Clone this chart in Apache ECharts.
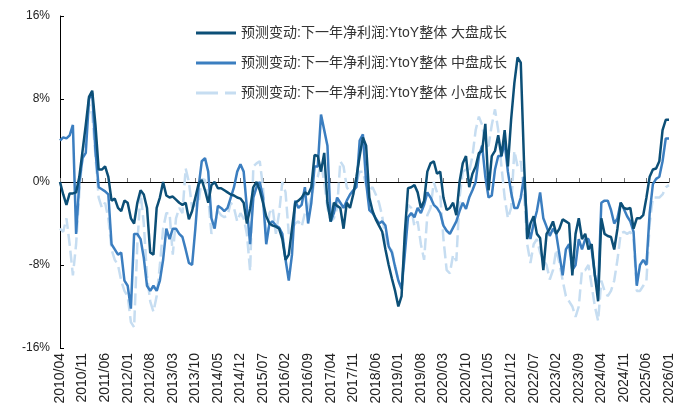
<!DOCTYPE html>
<html><head><meta charset="utf-8">
<script src="https://cdn.jsdelivr.net/npm/echarts@6/dist/echarts.min.js"></script>
<style>html,body{margin:0;padding:0;background:#fff}#c{width:676px;height:414px}</style>
</head><body><div id="c"></div>
<script>
var startYear = 2010, startMonth = 4, monthCount = 190;
var categories = [];
for (var i = 0; i < monthCount; i++) {
  var t = startMonth - 1 + i, y = startYear + Math.floor(t / 12), m = t % 12 + 1;
  categories.push(y + '/' + (m < 10 ? '0' + m : m));
}
var seriesNames = ['预测变动:下一年净利润:YtoY整体 大盘成长', '预测变动:下一年净利润:YtoY整体 中盘成长', '预测变动:下一年净利润:YtoY整体 小盘成长'];
var largeGrowth = [0,-1.2,-2.2,-1.1,-1.1,-1.0,0.5,3,5.5,8.2,8.8,5.5,1.2,1.2,1.5,0.5,-1.8,-1.6,-2.5,-2.8,
-1.8,-2.0,-3.5,-4.0,-2.0,-0.8,-1.2,-2.5,-6.8,-7.0,-2.5,-1.5,0,-1.3,-1.5,-1.4,-1.7,-2.0,-2.2,-2.0,
-3.6,-2.8,-1.5,-0.2,0.2,-0.8,-2.0,-0.3,0,-0.6,-0.6,-0.8,-1.0,-1.2,-1.3,-1.5,-1.6,-2.0,-4.0,-2.6,
-0.5,0,-0.8,-2.0,-3.3,-4.0,-4.2,-4.3,-4.5,-5.5,-7.5,-7.0,-4.5,-2.0,-1.8,-1.5,-1.0,-1.2,-0.5,2.6,
2.5,1.0,2.8,-2.0,-3.8,-2.0,-2.3,-2.5,-4.5,-2.0,-2.5,-1.2,0.5,2.5,4.3,3.5,-1.5,-2.8,-3.6,-4.2,
-4.8,-6.5,-8.0,-9.3,-10.5,-12.0,-11.0,-5.0,-0.6,-0.5,-0.3,-1.0,-2.5,-1.8,1.0,1.8,2.0,0.8,1.0,-1.5,
-2.7,-2.5,-2.0,-3.2,0,1.8,2.5,-0.5,0.8,1.5,2.8,3.0,5.6,-0.8,2.5,3.0,4.5,2.5,5.0,1.5,
6.0,9.5,12.0,11.5,2.0,-5.5,-4.0,-3.3,-5.0,-5.4,-8.5,-5.0,-4.5,-3.8,-5.0,-4.5,-3.6,-3.8,-4.0,-9.0,
-5.0,-3.5,-5.5,-5.0,-6.5,-6.0,-9.0,-11.5,-3.5,-5.0,-5.2,-5.3,-6.5,-4.5,-2.0,-2.5,-2.6,-2.5,-4.5,-3.5,
-3.5,-3.2,-1.5,0.5,1.2,1.3,2.0,5.0,6.0,6.0];
var midGrowth = [4.0,4.3,4.2,4.5,5.5,-5.0,0,2.3,2.8,8.0,8.6,3.0,-0.5,-0.7,-0.9,-1.2,-6.0,-6.5,-7.0,-6.8,
-9.5,-10.0,-12.2,-5.0,-5.0,-5.5,-7.3,-10.0,-10.5,-10.0,-10.5,-9.5,-7.5,-4.5,-5.5,-4.5,-4.5,-5.0,-5.3,-6.5,
-7.8,-8.0,-4.5,-0.5,2.0,2.3,1.0,-3.5,-4.5,-2.3,-2.5,-2.8,-2.5,-1.5,-0.5,1.0,1.7,1.0,-2.5,-6.0,
-1.5,-0.5,0,-1.5,-6.0,-4.0,-3.8,-4.2,-4.4,-5.0,-7.5,-9.5,-7.0,-1.8,-2.5,-2.2,-0.5,-4.0,-2.0,1.5,
1.5,6.5,5.0,3.5,-3.8,-3.0,-1.5,-2.0,-2.5,-1.8,-1.2,-0.8,-0.5,4.0,4.6,0,-2.7,-3.0,-3.5,-4.0,
-3.8,-4.2,-6.2,-6.8,-8.2,-9.5,-10.3,-7.0,-3.4,-3.0,-3.4,-2.5,-3.0,-2.2,-1.0,-1.5,-2.2,-2.5,-3.0,-4.2,
-4.7,-5.0,-4.4,-3.8,-2.8,-2.0,-2.6,-1.5,-0.8,0,2.5,3.5,0.5,-1.5,-1.3,1.2,2.5,2.5,3.8,1.0,
-1.0,-2.5,-2.5,-1.5,0.5,-4.0,-5.5,-4.0,-2.8,-1.0,-3.5,-4.3,-5.2,-4.5,-5.0,-7.0,-9.0,-6.5,-6.0,-8.5,
-8.0,-5.5,-6.5,-5.5,-5.5,-6.5,-9.0,-10.5,-2.0,-1.8,-1.8,-2.7,-4.0,-3.5,-2.0,-2.6,-3.3,-3.8,-4.8,-10.0,
-8.0,-7.5,-8.0,-3.0,-0.2,0.3,0.5,2.0,4.2,4.2];
var smallGrowth = [-4.5,-4.8,-3.5,-6,-9,-6,-1,2.5,5,7.5,6.5,2.5,-1.5,-2.5,-2.0,-3.5,-6.5,-7.5,-8,-9.5,
-10.5,-11,-13.5,-14,-6,-1,-4,-9,-11.5,-12.5,-11,-8,-4.5,-3.0,-3.0,-7.0,-3.5,-2.5,-3.0,1.3,
0,-2.5,-2.2,-2.0,0.3,0.2,-1.5,-5.0,-4.0,-2.8,-3.2,-3.4,-3.2,-2.0,-2.5,-3.8,-3.0,-3.5,-5.0,-8.6,
1.5,1.8,2.0,-0.5,-5.5,-3.0,-2.5,-5.0,-3.0,0,-1.0,-5.0,-4.5,-4.0,-3.8,-4.3,-3.0,-2.5,-1.5,0,
0.5,1.8,0,-2.5,-3.8,-3.5,-2.5,2.0,1.5,-0.5,-1.0,-1.2,0,1.0,1.0,-0.3,-0.8,-0.5,-1.2,-2.0,
-3.3,-5.5,-6.3,-6.6,-8.0,-9.5,-10.3,-5.5,-2.2,-2.5,-4.3,-3.8,-6.0,-7.5,-3.2,-2.5,0,-1.0,-1.2,-5.5,
-8.5,-8.8,-7.0,-7.6,-1.5,1.0,1.2,1.0,2.5,5.0,6.3,5.5,3.5,3.5,5.5,7.0,5.0,1.5,-1.5,-3.5,
-2.5,3.0,1.5,2.0,-1.0,-6.0,-7.8,-6.0,-5.5,-6.8,-7.5,-8.0,-9.4,-8.5,-6.5,-7.8,-9.5,-11.0,-11.5,-12.0,
-13.0,-12.0,-8.5,-8.5,-8.0,-10.0,-12.0,-13.4,-9.5,-10.5,-11.0,-10.5,-9.5,-7.5,-5.0,-4.8,-5.0,-4.8,-5.5,-10.5,
-10.5,-10.0,-9.5,-4.0,-1.5,-1.5,-1.5,-1.2,-0.5,-0.3];
var yTicks = [-16, -8, 0, 8, 16];
var colors = ['#0c4f77', '#3b7ec0', '#c6ddf1'];

var chart = echarts.init(document.getElementById('c'), null, {renderer: 'canvas'});
var fontFam = "'Liberation Sans', Arial, 'Noto Sans CJK SC', sans-serif";
var solidIcon = 'path://M0,0 L40,0 L40,3 L0,3 Z';
var dashedIcon = 'path://M0,0 L22,0 L22,3 L0,3 Z M29,0 L40,0 L40,3 L29,3 Z';
var icons = [solidIcon, solidIcon, dashedIcon];
var legends = seriesNames.map(function (n, i) {
  return {
    orient: 'horizontal', left: 191, top: 21 + 30 * i, itemWidth: 40, itemHeight: 3, itemGap: 10,
    textStyle: {fontSize: 14, color: '#333', fontFamily: "'Liberation Sans', 'Noto Sans CJK SC', sans-serif"},
    data: [{name: n, icon: icons[i]}]
  };
});
chart.setOption({
  animation: false,
  color: colors,
  grid: {left: 60, right: 4, top: 16, bottom: 66, containLabel: false},
  legend: legends,
  xAxis: [{
    type: 'category', data: categories, boundaryGap: false, position: 'bottom',
    axisLine: {show: false, onZero: false}, axisTick: {show: false},
    axisLabel: {interval: 6, rotate: 90, margin: 5, fontSize: 14, color: '#222', fontFamily: fontFam}
  }, {
    type: 'category', data: categories, boundaryGap: false, position: 'top',
    axisLine: {show: true, onZero: true, lineStyle: {color: '#000', width: 1}},
    axisTick: {show: true, interval: 6, inside: false, length: 4, lineStyle: {color: '#777'}},
    axisLabel: {show: false}
  }],
  yAxis: {
    type: 'value', min: yTicks[0], max: yTicks[yTicks.length - 1], interval: 8,
    axisLine: {show: true, lineStyle: {color: '#000'}},
    axisTick: {show: true, inside: true, length: 4, lineStyle: {color: '#000'}},
    splitLine: {show: false},
    axisLabel: {formatter: '{value}%', fontSize: 12, color: '#222', margin: 10, fontFamily: fontFam}
  },
  series: [
    {name: seriesNames[0], type: 'line', data: largeGrowth, symbol: 'none', xAxisIndex: 0, z: 4,
     lineStyle: {width: 2.5, color: colors[0]}},
    {name: seriesNames[1], type: 'line', data: midGrowth, symbol: 'none', xAxisIndex: 0, z: 3,
     lineStyle: {width: 2.5, color: colors[1]}},
    {name: seriesNames[2], type: 'line', data: smallGrowth, symbol: 'none', xAxisIndex: 0, z: 2,
     lineStyle: {width: 2.5, color: colors[2], type: [12, 5]}}
  ]
});
</script></body></html>
